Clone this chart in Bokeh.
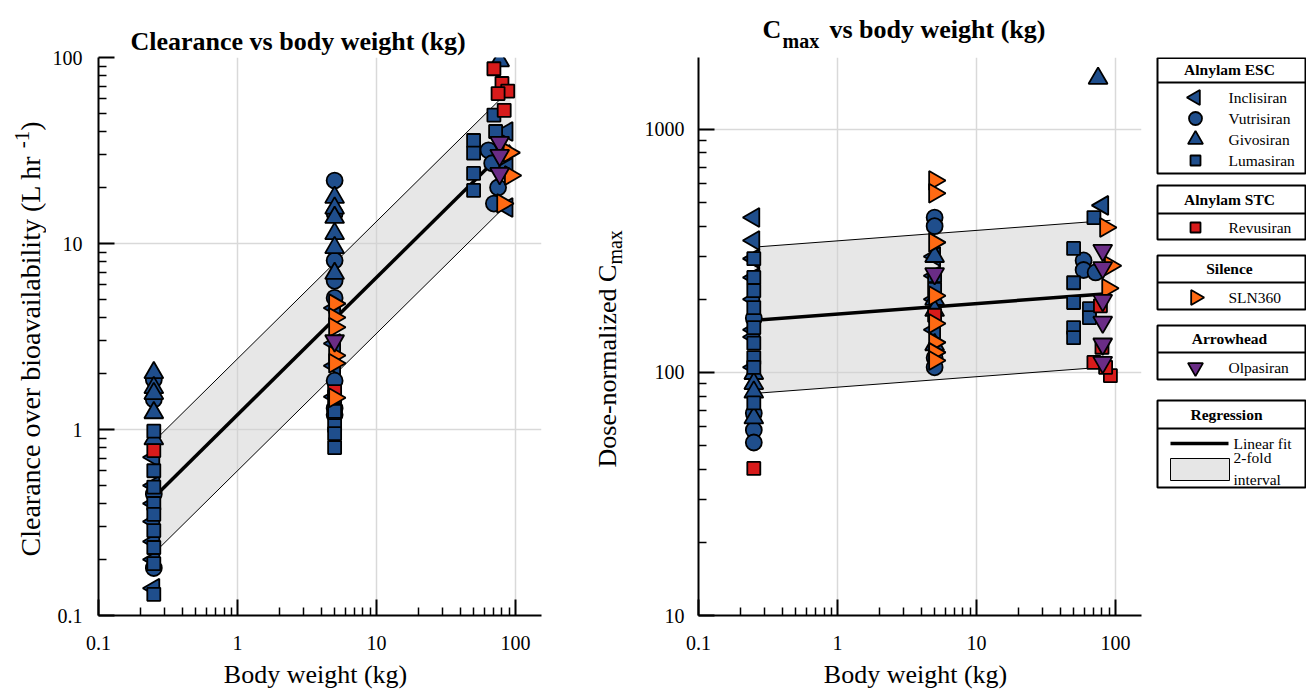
import numpy as np
from bokeh.plotting import figure
from bokeh.models import Range1d, FixedTicker, CustomJSTickFormatter, Title
from bokeh.layouts import row, column
from bokeh.embed import file_html
from bokeh.resources import INLINE
from bokeh.core.properties import value

SERIF = "Liberation Serif"

# ---------------- data ----------------
# Clearance over bioavailability (L/hr) vs body weight (kg)
incl_cl_bw = [0.25, 0.25, 0.25, 0.25, 0.25, 0.25, 0.25, 5, 5, 5, 5, 87, 87, 87]
incl_cl = [0.71, 0.50, 0.40, 0.32, 0.25, 0.20, 0.14, 4.5, 2.9, 2.2, 1.5, 40, 25.6, 15.6]
vutr_cl_bw = [0.25, 0.25, 0.25, 0.25, 5, 5, 5, 5, 5, 5, 5, 5, 64, 75, 70, 68]
vutr_cl = [1.85, 1.45, 0.45, 0.18, 21.8, 14.5, 8.1, 6.3, 5.1, 1.83, 1.3, 1.2, 31.7, 20, 16.4, 27]
givo_cl_bw = [0.25, 0.25, 0.25, 0.25, 0.25, 5, 5, 5, 5, 5, 5, 77]
givo_cl = [2.02, 1.68, 1.56, 1.23, 0.89, 17.7, 15.5, 13.8, 11.3, 9.5, 6.9, 96]
luma_cl_bw = [0.25, 0.25, 0.25, 0.25, 0.25, 0.25, 0.25, 0.25, 0.25, 5, 5, 5, 5, 5, 50, 50, 50, 50, 70, 72]
luma_cl = [0.98, 0.60, 0.49, 0.40, 0.35, 0.286, 0.232, 0.19, 0.13, 1.5, 1.25, 1.05, 0.95, 0.80,
           35.8, 30.6, 23.8, 19.3, 49, 40]
revu_cl_bw = [0.25, 5, 70, 80, 88, 75, 83]
revu_cl = [0.77, 1.6, 87, 72.5, 66, 64, 52]
sln_cl_bw = [5, 5, 5, 5, 5, 5, 90, 92, 81]
sln_cl = [4.75, 4.0, 3.55, 2.5, 2.27, 1.48, 30.8, 23.2, 16.4]
olpa_cl_bw = [5, 77, 77, 77]
olpa_cl = [3.0, 35, 29.8, 23.8]

# Dose-normalized Cmax vs body weight (kg)
incl_cm_bw = [0.25, 0.25, 0.25, 0.25, 0.25, 0.25, 0.25, 0.25, 5, 5, 5, 5, 81]
incl_cm = [434, 349, 294, 246, 200, 150, 140, 105, 300, 250, 200, 150, 487]
vutr_cm_bw = [0.25, 0.25, 0.25, 0.25, 5, 5, 5, 5, 59, 59, 72]
vutr_cm = [167, 68, 58, 51.5, 434, 400, 115, 105, 289, 264, 258]
givo_cm_bw = [0.25, 0.25, 0.25, 0.25, 5, 5, 5, 5, 75]
givo_cm = [99, 90, 83, 65, 300, 200, 180, 130, 1623]
luma_cm_bw = [0.25, 0.25, 0.25, 0.25, 0.25, 0.25, 0.25, 0.25, 0.25, 5, 5, 50, 50, 50, 50, 50, 70, 65, 65]
luma_cm = [294, 246, 217, 185, 153, 132, 115, 105, 75, 250, 220, 324, 234, 194, 153, 139, 434, 183, 168]
revu_cm_bw = [0.25, 5, 78, 80, 70, 92, 85]
revu_cm = [40.3, 172, 188, 127, 110, 97, 105]
sln_cm_bw = [5, 5, 5, 5, 5, 5, 5, 5, 85, 92, 88]
sln_cm = [617, 546, 343, 207, 159, 133, 121, 112, 395, 275, 222]
olpa_cm_bw = [5, 81, 81, 81, 81, 81, 81]
olpa_cm = [255, 318, 270, 198, 161, 131, 110]

# Regression: y = a * BW ** b  (with 2-fold interval)
cl_fit_a, cl_fit_b = 1.2, 0.738
cm_fit_a, cm_fit_b = 174.0, 0.043

x_ticks = [0.1, 1, 10, 100]
cl_ticks = [0.1, 1, 10, 100]
cm_ticks = [10, 100, 1000]

groups = [("Alnylam ESC", ["Inclisiran", "Vutrisiran", "Givosiran", "Lumasiran"]),
          ("Alnylam STC", ["Revusiran"]),
          ("Silence", ["SLN360"]),
          ("Arrowhead", ["Olpasiran"])]

# ---------------- styles ----------------
BLUE, RED, ORANGE, PURPLE = "#1f4e8c", "#d81b1b", "#ff6a13", "#6a2c86"
STYLE = {
    "Inclisiran": dict(marker="triangle", angle=np.pi / 2, color=BLUE, size=19),
    "Vutrisiran": dict(marker="circle", angle=0.0, color=BLUE, size=16),
    "Givosiran": dict(marker="triangle", angle=0.0, color=BLUE, size=19),
    "Lumasiran": dict(marker="square", angle=0.0, color=BLUE, size=13),
    "Revusiran": dict(marker="square", angle=0.0, color=RED, size=13),
    "SLN360": dict(marker="triangle", angle=-np.pi / 2, color=ORANGE, size=19),
    "Olpasiran": dict(marker="inverted_triangle", angle=0.0, color=PURPLE, size=19),
}
CL_DATA = {"Inclisiran": (incl_cl_bw, incl_cl), "Vutrisiran": (vutr_cl_bw, vutr_cl),
           "Givosiran": (givo_cl_bw, givo_cl), "Lumasiran": (luma_cl_bw, luma_cl),
           "Revusiran": (revu_cl_bw, revu_cl), "SLN360": (sln_cl_bw, sln_cl),
           "Olpasiran": (olpa_cl_bw, olpa_cl)}
CM_DATA = {"Inclisiran": (incl_cm_bw, incl_cm), "Vutrisiran": (vutr_cm_bw, vutr_cm),
           "Givosiran": (givo_cm_bw, givo_cm), "Lumasiran": (luma_cm_bw, luma_cm),
           "Revusiran": (revu_cm_bw, revu_cm), "SLN360": (sln_cm_bw, sln_cm),
           "Olpasiran": (olpa_cm_bw, olpa_cm)}

PAGE_H = 689
TOP = 57            # page y of frame top
FRAME_BOTTOM = 615  # page y of frame bottom
BOT = PAGE_H - FRAME_BOTTOM
PANEL_BOT = 44      # bottom border of the plots (tick labels only)
XL_TOP = FRAME_BOTTOM + PANEL_BOT
MID = 0.34          # baseline = middle + MID * font size


def minor_for(ticks):
    out = []
    for t in ticks:
        out += [t * k for k in range(2, 10)]
    return out


def strip(x0, x1, y0, y1, left=0, right=0, top=0, bottom=0):
    """A bare figure whose frame maps page pixels 1:1."""
    f = figure(width=(x1 - x0) + left + right, height=(y1 - y0) + top + bottom,
               x_range=Range1d(x0, x1), y_range=Range1d(y1, y0),
               output_backend="svg", toolbar_location=None, min_border=0,
               min_border_left=left, min_border_right=right, min_border_top=top, min_border_bottom=bottom)
    f.title = None
    f.axis.visible = False
    f.grid.visible = False
    f.outline_line_color = None
    f.background_fill_color = "white"
    f.border_fill_color = "white"
    return f


def put_text(f, x, y, text, size, bold=False, angle=0.0, align="left", baseline="alphabetic"):
    # Bokeh's svg text is placed by its middle: derive it from the wanted baseline
    if baseline == "alphabetic":
        if angle == 0.0:
            y = y - MID * size
        else:
            x = x - MID * size
    f.text(x=[x], y=[y], text=[text], angle=angle, text_font=value(SERIF), text_font_size=f"{size}px",
           text_font_style="bold" if bold else "normal", text_color="black",
           text_align=align, text_baseline="middle")


def make_panel(width, left_border, right_border, top_border, yr, yticks, data, fit_a, fit_b, label_standoff):
    p = figure(width=width, height=top_border + FRAME_BOTTOM - TOP + PANEL_BOT,
               x_axis_type="log", y_axis_type="log",
               x_range=Range1d(0.1, 154), y_range=Range1d(*yr),
               output_backend="svg", toolbar_location=None,
               min_border_left=left_border, min_border_right=right_border,
               min_border_top=top_border, min_border_bottom=PANEL_BOT)
    p.title = None
    p.outline_line_color = None
    p.background_fill_color = "white"
    p.border_fill_color = "white"

    p.xaxis.ticker = FixedTicker(ticks=x_ticks, minor_ticks=minor_for(x_ticks))
    p.yaxis.ticker = FixedTicker(ticks=yticks, minor_ticks=minor_for(yticks))
    fmt = "return tick.toString();"
    p.xaxis.formatter = CustomJSTickFormatter(code=fmt)
    p.yaxis.formatter = CustomJSTickFormatter(code=fmt)
    for ax in (p.xaxis[0], p.yaxis[0]):
        ax.axis_line_width = 2
        ax.axis_line_color = "black"
        ax.major_tick_in = 16
        ax.major_tick_out = 0
        ax.major_tick_line_width = 2
        ax.minor_tick_in = 8
        ax.minor_tick_out = 0
        ax.minor_tick_line_width = 1.5
        ax.major_label_text_font = SERIF
        ax.major_label_text_font_size = "20px"
        ax.major_label_text_color = "black"
    p.xaxis.major_label_standoff = 20
    p.yaxis.major_label_standoff = label_standoff
    for g in (p.xgrid[0], p.ygrid[0]):
        g.grid_line_color = "#d9d9d9"
        g.grid_line_width = 1.5

    # regression band + fit
    all_bw = [w for bw, _ in data.values() for w in bw]
    xs = np.array([min(all_bw), max(all_bw)], dtype=float)
    fit = fit_a * xs ** fit_b
    p.varea(x=xs, y1=fit / 2, y2=fit * 2, fill_color="#cfcfcf", fill_alpha=0.5)
    p.line(xs, fit * 2, line_color="black", line_width=1)
    p.line(xs, fit / 2, line_color="black", line_width=1)
    p.line(xs, fit, line_color="black", line_width=3.5)

    for name, (bw, yv) in data.items():
        st = STYLE[name]
        p.scatter(bw, yv, marker=st["marker"], angle=st["angle"], size=st["size"],
                  fill_color=st["color"], line_color="black", line_width=1.8)
    return p


# ---------------- left y label strip ----------------
yl1 = strip(0, 46, TOP, FRAME_BOTTOM, top=TOP, bottom=BOT)
fs = 28
bx, by = 40, 556
main_w = 14.578 * fs
put_text(yl1, bx, by, "Clearance over bioavailability (L hr ", fs, angle=np.pi / 2)
put_text(yl1, bx - 0.42 * fs, by - main_w, "-1", 0.75 * fs, angle=np.pi / 2)
put_text(yl1, bx, by - main_w - 0.833 * 0.75 * fs, ")", fs, angle=np.pi / 2)

# ---------------- left panel (title in its own top border) ----------------
p1 = make_panel(514, 52, 19, TOP, (0.1, 100), cl_ticks, CL_DATA, cl_fit_a, cl_fit_b, 16)
p1.title = Title(text="Clearance vs body weight (kg)", align="left", offset=32, standoff=3,
                 text_font=SERIF, text_font_size="26px", text_font_style="bold", text_color="black")
xl1 = strip(98, 541, XL_TOP, PAGE_H, left=52, right=19)
put_text(xl1, 315, 683, "Body weight (kg)", 26, align="center")

# ---------------- right y label strip ----------------
yl2 = strip(560, 640, TOP, FRAME_BOTTOM, top=TOP, bottom=BOT)
fs2 = 26
bx2, by2 = 616, 467
put_text(yl2, bx2, by2, "Dose-normalized C", fs2, angle=np.pi / 2)
put_text(yl2, bx2 + 0.22 * fs2, by2 - 7.804 * fs2, "max", 0.77 * fs2, angle=np.pi / 2)

# ---------------- right panel with title strip ----------------
ts2 = strip(698, 1141, 0, TOP, left=58, right=8)
put_text(ts2, 762, 38, "C", 26, bold=True)
put_text(ts2, 782, 47, "max", 20, bold=True)
put_text(ts2, 829, 38, "vs body weight (kg)", 26, bold=True)
p2 = make_panel(509, 58, 8, 0, (10, 1977), cm_ticks, CM_DATA, cm_fit_a, cm_fit_b, 14)
xl2 = strip(698, 1141, XL_TOP, PAGE_H, left=58, right=8)
put_text(xl2, 915, 683, "Body weight (kg)", 26, align="center")

# ---------------- legend strip ----------------
lg = strip(1149, 1306, TOP, FRAME_BOTTOM, top=TOP, bottom=BOT)
boxes = [  # (top, separator, bottom, header y, item ys)
    (57.5, 82, 173, 69, [97, 118, 139, 160]),
    (185, 213, 239, 199, [227]),
    (255, 282, 309, 268, [297]),
    (325, 352, 379, 338, [367]),
]
LFS = 15.5
for (title, names), (top, sep, bot, hy, iys) in zip(groups, boxes):
    lg.quad(left=[1157], right=[1305], top=[top], bottom=[bot],
            fill_color=None, line_color="black", line_width=2)
    lg.segment(x0=[1157], x1=[1305], y0=[sep], y1=[sep], line_color="black", line_width=2)
    put_text(lg, 1229, hy, title, LFS, bold=True, align="center", baseline="middle")
    for name, iy in zip(names, iys):
        st = STYLE[name]
        lsize = {"circle": 13, "square": 10}.get(st["marker"], 15)
        lg.scatter([1195], [iy], marker=st["marker"], angle=st["angle"],
                   size=lsize, fill_color=st["color"], line_color="black", line_width=1.8)
        put_text(lg, 1228, iy, name, LFS, baseline="middle")

lg.quad(left=[1157], right=[1305], top=[400], bottom=[487],
        fill_color=None, line_color="black", line_width=2)
lg.segment(x0=[1157], x1=[1305], y0=[428], y1=[428], line_color="black", line_width=2)
put_text(lg, 1226, 414, "Regression", LFS, bold=True, align="center", baseline="middle")
lg.segment(x0=[1170], x1=[1228], y0=[443], y1=[443], line_color="black", line_width=3.5)
put_text(lg, 1233, 443, "Linear fit", LFS, baseline="middle")
lg.quad(left=[1170], right=[1229], top=[458], bottom=[480],
        fill_color="#e6e6e6", line_color="black", line_width=1)
put_text(lg, 1233, 457, "2-fold", LFS, baseline="middle")
put_text(lg, 1233, 479, "interval", LFS, baseline="middle")

layout = row(yl1, column(p1, xl1), yl2, column(ts2, p2, xl2), lg)
open("out.html", "w").write(file_html(layout, INLINE))
